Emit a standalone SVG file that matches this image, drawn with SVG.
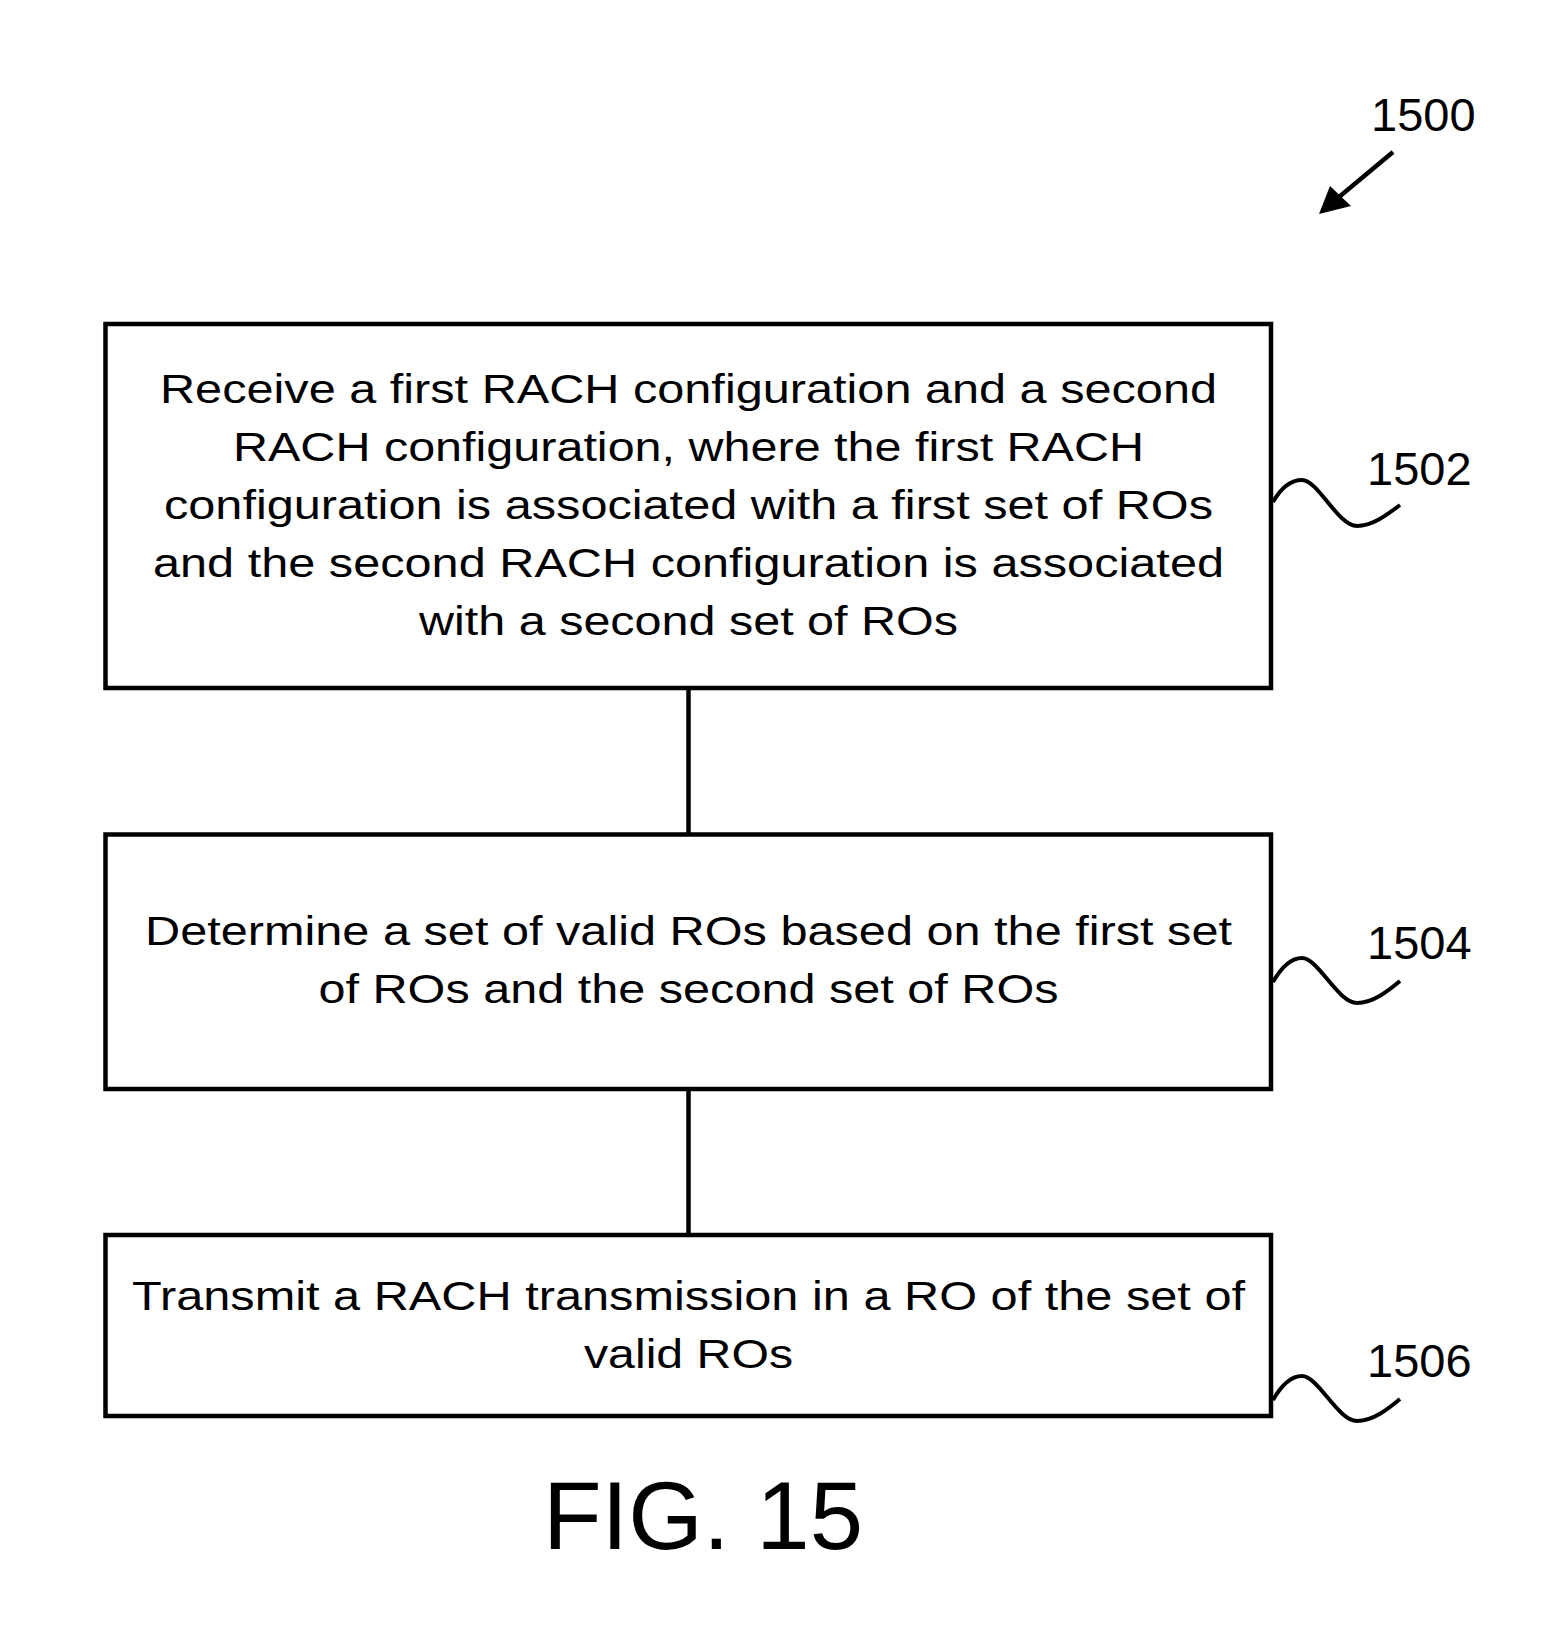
<svg xmlns="http://www.w3.org/2000/svg" width="1567" height="1635" viewBox="0 0 1567 1635">
<style>
.box{fill:none;stroke:#000;stroke-width:4.5}
.ln{fill:none;stroke:#000;stroke-width:4.5}
.sq{fill:none;stroke:#000;stroke-width:4}
.t{font-family:"Liberation Sans",Arial,sans-serif;font-size:40.5px;fill:#000;text-anchor:middle}
.ref{font-family:"Liberation Sans",Arial,sans-serif;font-size:47px;fill:#000}
.fig{font-family:"Liberation Sans",Arial,sans-serif;font-size:96px;fill:#000;text-anchor:middle}
</style>
<rect width="1567" height="1635" fill="#fff"/>
<g id="label-1500">
<text class="ref" x="1371" y="131">1500</text>
<line x1="1393" y1="152" x2="1333" y2="202" stroke="#000" stroke-width="4.5"/>
<polygon points="1319,214 1330,186 1351,206" fill="#000"/>
</g>
<g id="connectors">
<line class="ln" x1="688.5" y1="688" x2="688.5" y2="834.5"/>
<line class="ln" x1="688.5" y1="1089" x2="688.5" y2="1235"/>
</g>
<g id="node-1502">
<rect class="box" x="105.5" y="324" width="1165.5" height="364"/>
<text class="t" x="688.5" y="403" textLength="1057" lengthAdjust="spacingAndGlyphs">Receive a first RACH configuration and a second</text>
<text class="t" x="688.5" y="461" textLength="911" lengthAdjust="spacingAndGlyphs">RACH configuration, where the first RACH</text>
<text class="t" x="688.5" y="519" textLength="1049" lengthAdjust="spacingAndGlyphs">configuration is associated with a first set of ROs</text>
<text class="t" x="688.5" y="577" textLength="1071" lengthAdjust="spacingAndGlyphs">and the second RACH configuration is associated</text>
<text class="t" x="688.5" y="635" textLength="539" lengthAdjust="spacingAndGlyphs">with a second set of ROs</text>
<path class="sq" d="M1273,502 C1281,488 1291,480 1302,480 C1318,480 1338,526 1357,526 C1373,526 1388,514 1400,505"/>
<text class="ref" x="1367" y="485">1502</text>
</g>
<g id="node-1504">
<rect class="box" x="105.5" y="834.5" width="1165.5" height="254.5"/>
<text class="t" x="688.5" y="945" textLength="1087" lengthAdjust="spacingAndGlyphs">Determine a set of valid ROs based on the first set</text>
<text class="t" x="688.5" y="1003" textLength="740" lengthAdjust="spacingAndGlyphs">of ROs and the second set of ROs</text>
<path class="sq" d="M1273,982 C1281,968 1291,958 1302,958 C1318,958 1338,1003 1357,1003 C1373,1003 1388,991 1400,981"/>
<text class="ref" x="1367" y="959">1504</text>
</g>
<g id="node-1506">
<rect class="box" x="105.5" y="1235" width="1165.5" height="181"/>
<text class="t" x="688.5" y="1310" textLength="1113" lengthAdjust="spacingAndGlyphs">Transmit a RACH transmission in a RO of the set of</text>
<text class="t" x="688.5" y="1368" textLength="209" lengthAdjust="spacingAndGlyphs">valid ROs</text>
<path class="sq" d="M1273,1400 C1281,1386 1291,1376 1302,1376 C1318,1376 1338,1421 1357,1421 C1373,1421 1388,1409 1400,1399"/>
<text class="ref" x="1367" y="1377">1506</text>
</g>
<text class="fig" x="703" y="1549">FIG. 15</text>
</svg>
